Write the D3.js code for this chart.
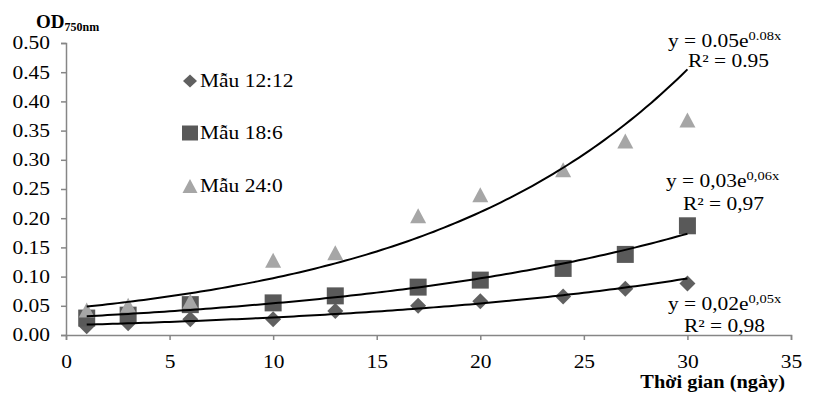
<!DOCTYPE html>
<html>
<head>
<meta charset="utf-8">
<script src="https://cdn.jsdelivr.net/npm/d3@7"></script>
<style>
  body { margin: 0; background: #fff; }
</style>
</head>
<body>
<svg id="chart" width="819" height="398"></svg>
<script>
// days of measurement
const days = [1, 3, 6, 10, 13, 17, 20, 24, 27, 30];

// OD750nm per light regime
const mau1212 = [0.015, 0.020, 0.027, 0.027, 0.041, 0.050, 0.058, 0.066, 0.079, 0.088];
const mau186 = [0.029, 0.034, 0.052, 0.055, 0.067, 0.082, 0.094, 0.114, 0.138, 0.187];
const mau240 = [0.043, 0.051, 0.058, 0.128, 0.141, 0.204, 0.240, 0.283, 0.332, 0.368];

const seriesNames = ['Mẫu 12:12', 'Mẫu 18:6', 'Mẫu 24:0'];
const xTicks = [0, 5, 10, 15, 20, 25, 30, 35];
const yTicks = [0, 0.05, 0.1, 0.15, 0.2, 0.25, 0.3, 0.35, 0.4, 0.45, 0.5];

// trendline labels as printed on the chart
const eqA = ['0,02e', '0,05x', '0,98'];
const eqB = ['0,03e', '0,06x', '0,97'];
const eqC = ['0.05e', '0.08x', '0.95'];

const serif = '"Liberation Serif", "Times New Roman", serif';
const sx = 1.16; // the original picture is a bit wider than tall

const svg = d3.select('#chart').attr('font-family', serif);

const x = d3.scaleLinear().domain([0, 35]).range([66, 791]);
const y = d3.scaleLinear().domain([0, 0.5]).range([335, 43]);

const axisColor = '#868686';

// place a text at (px,py) stretched horizontally
function label(px, py, size, str, k = sx) {
  return svg.append('text')
    .attr('transform', `translate(${px},${py}) scale(${k},1)`)
    .attr('font-size', size)
    .text(str);
}

// y axis
const yAxis = svg.append('g')
  .attr('transform', 'translate(66,0)')
  .call(d3.axisLeft(y).tickValues(yTicks).tickFormat(d3.format('.2f')).tickSize(5).tickPadding(11));
yAxis.attr('font-family', serif).attr('font-size', 18.5);
yAxis.select('.domain').attr('stroke', axisColor).attr('stroke-width', 1.5);
yAxis.selectAll('.tick line').attr('stroke', axisColor).attr('stroke-width', 1.5);
yAxis.selectAll('.tick text').attr('fill', '#000')
  .attr('x', -16 / sx).attr('transform', `scale(${sx},1)`);

// x axis
const xAxis = svg.append('g')
  .attr('transform', 'translate(0,335)')
  .call(d3.axisBottom(x).tickValues(xTicks).tickFormat(d3.format('d')).tickSize(5).tickPadding(15));
xAxis.attr('font-family', serif).attr('font-size', 18.5);
xAxis.select('.domain').attr('stroke', axisColor).attr('stroke-width', 1.5);
xAxis.selectAll('.tick line').attr('stroke', axisColor).attr('stroke-width', 1.5);
xAxis.selectAll('.tick text').attr('fill', '#000').attr('transform', `scale(${sx},1)`);

// exponential least squares fit (like Excel's trendline)
function expFit(xs, ys) {
  const ly = ys.map(v => Math.log(v));
  const mx = d3.mean(xs), my = d3.mean(ly);
  let sxy = 0, sxx = 0;
  xs.forEach((v, i) => { sxy += (v - mx) * (ly[i] - my); sxx += (v - mx) * (v - mx); });
  const b = sxy / sxx;
  const a = Math.exp(my - b * mx);
  return t => a * Math.exp(b * t);
}

// marker outlines, w x h box centred on 0,0
const shapes = {
  diamond: (w, h) => `M0,${-h / 2}L${w / 2},0L0,${h / 2}L${-w / 2},0Z`,
  square: (w, h) => `M${-w / 2},${-h / 2}h${w}v${h}h${-w}Z`,
  triangle: (w, h) => `M0,${-h / 2}L${w / 2},${h / 2}L${-w / 2},${h / 2}Z`
};

const allSeries = [mau1212, mau186, mau240];
const colors = ['#606060', '#595959', '#a6a6a6'];
const kinds = ['diamond', 'square', 'triangle'];
const plotSize = [[16, 16], [17, 17], [16, 15]];
const legendSize = [[14, 13], [16, 15], [15, 14]];

// markers
allSeries.forEach((vals, si) => {
  svg.append('g').selectAll('path')
    .data(vals)
    .join('path')
    .attr('transform', (d, i) => `translate(${x(days[i])},${y(d)})`)
    .attr('d', shapes[kinds[si]](...plotSize[si]))
    .attr('fill', colors[si]);
});

// trendlines over the markers
const fineX = d3.range(1, 30.01, 0.25);
allSeries.forEach(vals => {
  const f = expFit(days, vals);
  svg.append('path')
    .datum(fineX)
    .attr('fill', 'none')
    .attr('stroke', '#000')
    .attr('stroke-width', 2)
    .attr('d', d3.line().x(d => x(d)).y(d => y(f(d))));
});

// legend
const legendY = [81, 133, 186];
seriesNames.forEach((name, i) => {
  svg.append('path')
    .attr('transform', `translate(190,${legendY[i]})`)
    .attr('d', shapes[kinds[i]](...legendSize[i]))
    .attr('fill', colors[i]);
  label(200, legendY[i] + 6, 18.5, name);
});

// equation labels
function equation(eq, ex, ey, rx, ry) {
  const t = label(ex, ey, 18.5, 'y = ' + eq[0]);
  t.append('tspan').attr('dy', -7).attr('font-size', 12.5).text(eq[1]);
  label(rx, ry, 18.5, 'R² = ' + eq[2]);
}
equation(eqC, 668, 47, 688, 67);
equation(eqB, 666, 187, 683, 210);
equation(eqA, 668, 310, 684, 332);

// axis titles
const yt = svg.append('text').attr('x', 36).attr('y', 28)
  .attr('font-weight', 'bold').attr('font-size', 19);
yt.append('tspan').text('OD');
yt.append('tspan').attr('dy', 3).attr('font-size', 12).text('750nm');

label(785, 388, 18.5, 'Thời gian (ngày)', 1.1)
  .attr('text-anchor', 'end')
  .attr('font-weight', 'bold');
</script>
</body>
</html>
